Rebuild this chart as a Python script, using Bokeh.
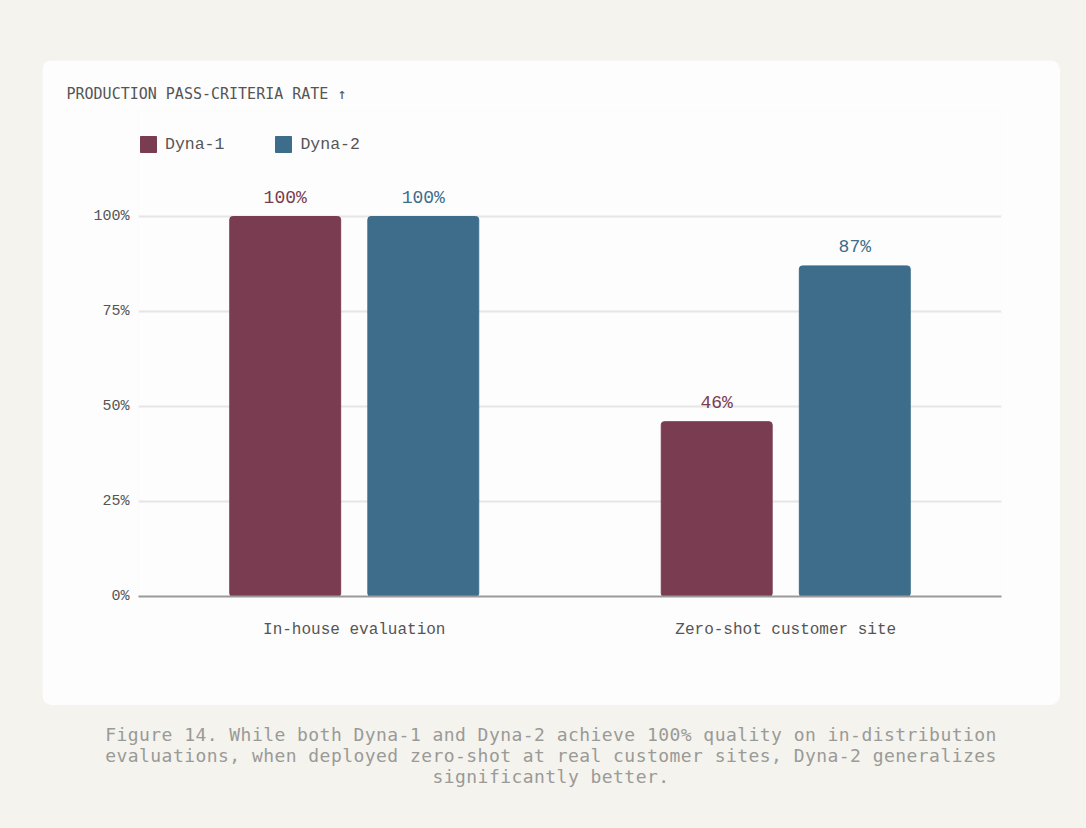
from bokeh.plotting import figure
from bokeh.models import ColumnDataSource, FactorRange, Range1d, Div, GlobalInlineStyleSheet
from bokeh.layouts import column
from bokeh.transform import dodge
from bokeh.core.properties import value
from bokeh.embed import file_html
from bokeh.resources import INLINE

# data
settings = ["In-house evaluation", "Zero-shot customer site"]
dyna1 = [100, 46]
dyna2 = [100, 87]
y_ticks = [0, 25, 50, 75, 100]
y_tick_labels = ["0%", "25%", "50%", "75%", "100%"]

title_text = "PRODUCTION PASS-CRITERIA RATE \u2191"
caption_lines = [
    "Figure 14. While both Dyna-1 and Dyna-2 achieve 100% quality on in-distribution",
    "evaluations, when deployed zero-shot at real customer sites, Dyna-2 generalizes",
    "significantly better.",
]

c1 = "#7a3c50"
c2 = "#3e6d8b"
ink = "#555555"
mono = "Liberation Mono"

source = ColumnDataSource(dict(
    setting=settings,
    dyna1=dyna1,
    dyna2=dyna2,
    dyna1_lbl=[f"{v}%" for v in dyna1],
    dyna2_lbl=[f"{v}%" for v in dyna2],
))

p = figure(x_range=FactorRange(*settings, range_padding=0), y_range=Range1d(0, 127.9),
           width=1018, height=645, min_border_left=96, min_border_right=59,
           min_border_top=50, min_border_bottom=109,
           output_backend="svg", toolbar_location=None,
           background_fill_color="#fdfdfd", border_fill_color="#fdfdfd",
           outline_line_color=None, margin=(60, 0, 0, 42),
           styles={"border-radius": "10px", "overflow": "hidden"})

bar1 = p.vbar(x=dodge("setting", -0.16, range=p.x_range), top="dyna1", width=0.257,
              source=source, color=c1, border_radius=3, legend_label="Dyna-1")
bar2 = p.vbar(x=dodge("setting", 0.16, range=p.x_range), top="dyna2", width=0.257,
              source=source, color=c2, border_radius=3, legend_label="Dyna-2")

p.text(x=dodge("setting", -0.16, range=p.x_range), y="dyna1", text="dyna1_lbl", source=source,
       text_font=value(mono), text_font_size="18px", text_color=c1,
       text_align="center", text_baseline="middle", y_offset=-19)
p.text(x=dodge("setting", 0.16, range=p.x_range), y="dyna2", text="dyna2_lbl", source=source,
       text_font=value(mono), text_font_size="18px", text_color=c2,
       text_align="center", text_baseline="middle", y_offset=-19)

# title sits in the top border, left of the frame
p.title.text = title_text
p.title.text_font = "DejaVu Sans Mono"
p.title.text_font_size = "15px"
p.title.text_font_style = "normal"
p.title.text_color = ink
p.title.align = "left"
p.title.offset = -72
p.title.standoff = 16

# axes and grid
p.xgrid.grid_line_color = None
p.ygrid.ticker = y_ticks
p.ygrid.grid_line_color = "#e6e6e6"
p.ygrid.grid_line_width = 2

p.yaxis.ticker = y_ticks
p.yaxis.major_label_overrides = dict(zip(y_ticks, y_tick_labels))
p.yaxis.axis_line_color = None
p.yaxis.major_tick_line_color = None
p.yaxis.minor_tick_line_color = None
p.yaxis.major_tick_out = 0
p.yaxis.major_label_standoff = 9
p.yaxis.major_label_text_font = mono
p.yaxis.major_label_text_font_size = "15px"
p.yaxis.major_label_text_color = ink

p.xaxis.axis_line_color = "#9a9a9a"
p.xaxis.axis_line_width = 2
p.xaxis.major_tick_line_color = None
p.xaxis.major_tick_out = 0
p.xaxis.major_label_standoff = 24
p.xaxis.major_label_text_font = mono
p.xaxis.major_label_text_font_size = "16px"
p.xaxis.major_label_text_color = ink

# legend, bottom-left corner given in pixels from the frame's bottom-left
p.legend.location = (0, 442)
p.legend.orientation = "horizontal"
p.legend.margin = 0
p.legend.padding = 0
p.legend.spacing = 49
p.legend.glyph_width = 20
p.legend.glyph_height = 20
p.legend.label_standoff = 7
p.legend.label_text_font = mono
p.legend.label_text_font_size = "16.5px"
p.legend.label_text_color = ink
p.legend.border_line_color = None
p.legend.background_fill_alpha = 0

caption = Div(text="<br>".join(caption_lines), width=1018, margin=(0, 0, 0, 42),
              styles={"text-align": "center", "font-family": "DejaVu Sans Mono",
                      "font-size": "18px", "letter-spacing": "0.45px",
                      "color": "#9a9a96", "line-height": "21px", "padding-top": "19px"})

page = column(p, caption,
              stylesheets=[GlobalInlineStyleSheet(css="html, body { background-color: #f4f3ee; }")])

open("out.html", "w").write(file_html(page, INLINE))
